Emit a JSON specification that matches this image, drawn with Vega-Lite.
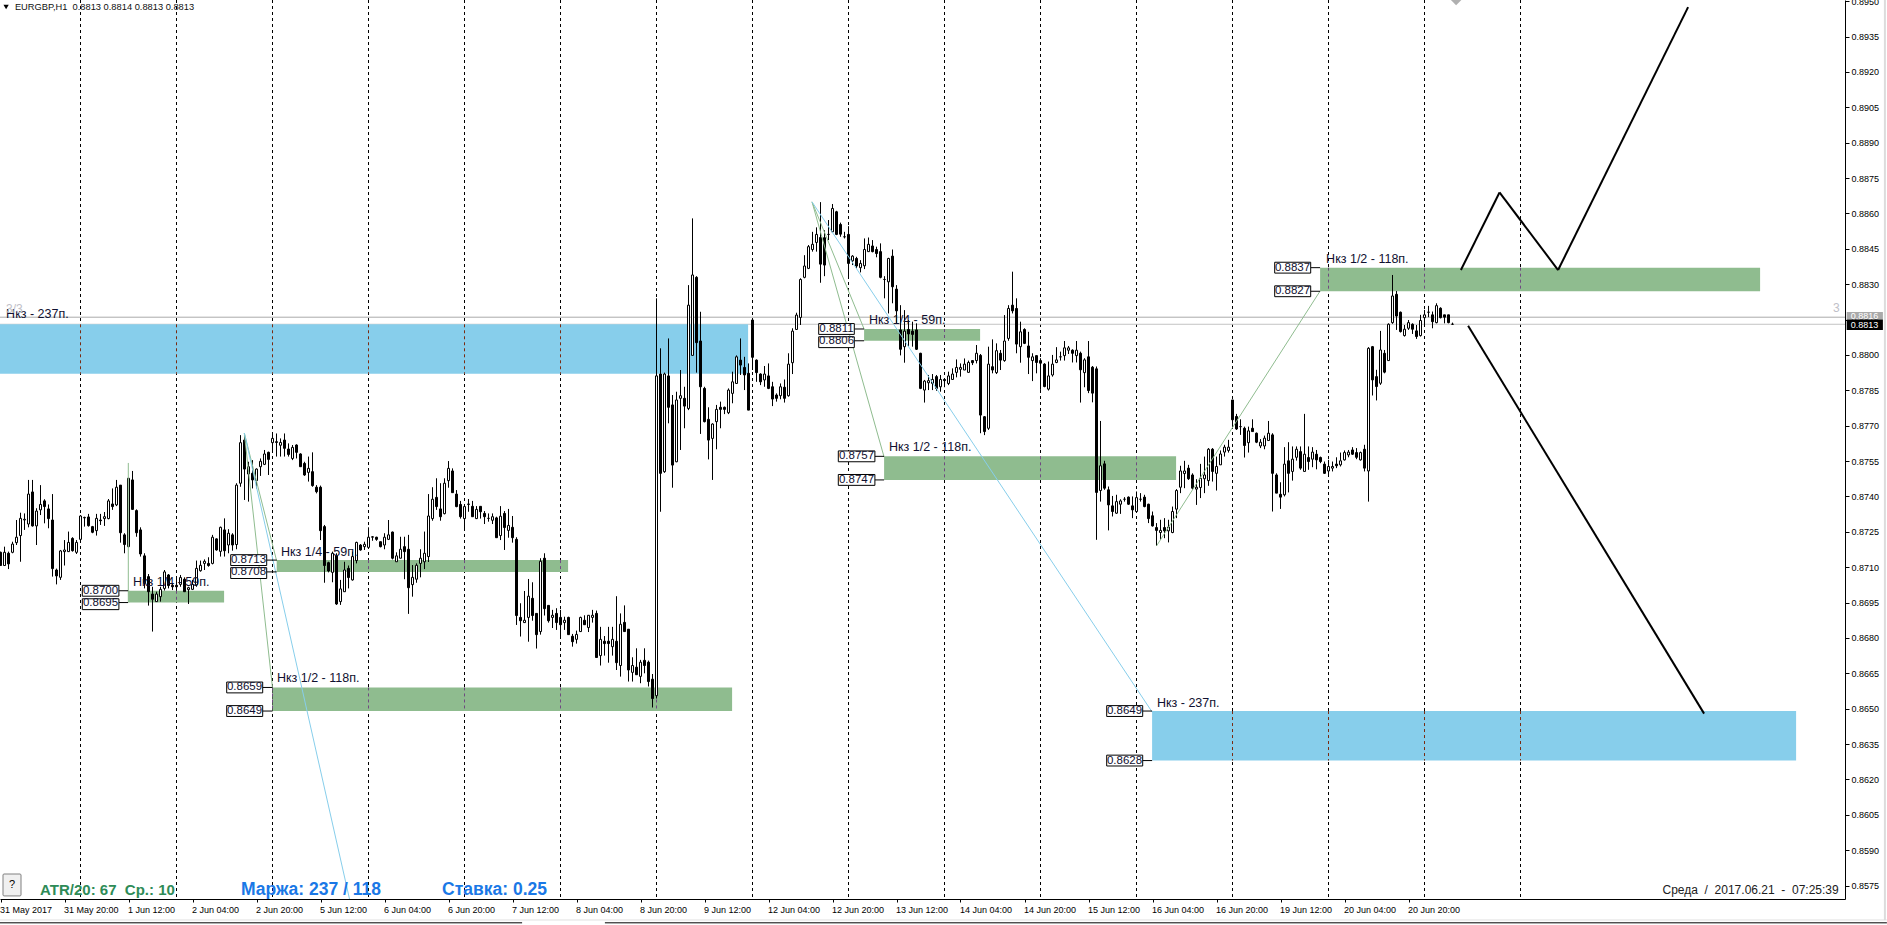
{"$schema":"https://vega.github.io/schema/vega-lite/v6.json","width":1845,"height":899,"autosize":"none","padding":{"left":0,"top":0,"right":42,"bottom":26},"background":"white","config":{"view":{"stroke":null},"font":"Liberation Sans"},
"datasets":{
"vlines":[{"i":20},{"i":44},{"i":68},{"i":92},{"i":116},{"i":140},{"i":164},{"i":188},{"i":212},{"i":236},{"i":260},{"i":284},{"i":308},{"i":332},{"i":356},{"i":380}],
"blue":[{"x1":-0.125,"x2":186.9,"p1":0.8813,"p2":0.8792},{"x1":287.9,"x2":448.9,"p1":0.8649,"p2":0.8628}],
"green":[{"x1":31.9,"x2":55.9,"p1":0.87,"p2":0.8695},{"x1":69.05,"x2":141.9,"p1":0.8713,"p2":0.8708},{"x1":68,"x2":182.9,"p1":0.8659,"p2":0.8649},{"x1":215.9,"x2":244.9,"p1":0.8811,"p2":0.8806},{"x1":220.9,"x2":293.9,"p1":0.8757,"p2":0.8747},{"x1":329.9,"x2":439.9,"p1":0.8837,"p2":0.8827}],
"dashBlue":[{"i":20,"p1":0.8813,"p2":0.8792},{"i":44,"p1":0.8813,"p2":0.8792},{"i":68,"p1":0.8813,"p2":0.8792},{"i":92,"p1":0.8813,"p2":0.8792},{"i":116,"p1":0.8813,"p2":0.8792},{"i":140,"p1":0.8813,"p2":0.8792},{"i":164,"p1":0.8813,"p2":0.8792},{"i":308,"p1":0.8649,"p2":0.8628},{"i":332,"p1":0.8649,"p2":0.8628},{"i":356,"p1":0.8649,"p2":0.8628},{"i":380,"p1":0.8649,"p2":0.8628}],
"dashGreen":[{"i":44,"p1":0.87,"p2":0.8695},{"i":92,"p1":0.8713,"p2":0.8708},{"i":116,"p1":0.8713,"p2":0.8708},{"i":140,"p1":0.8713,"p2":0.8708},{"i":68,"p1":0.8659,"p2":0.8649},{"i":92,"p1":0.8659,"p2":0.8649},{"i":116,"p1":0.8659,"p2":0.8649},{"i":140,"p1":0.8659,"p2":0.8649},{"i":164,"p1":0.8659,"p2":0.8649},{"i":236,"p1":0.8811,"p2":0.8806},{"i":236,"p1":0.8757,"p2":0.8747},{"i":260,"p1":0.8757,"p2":0.8747},{"i":284,"p1":0.8757,"p2":0.8747},{"i":332,"p1":0.8837,"p2":0.8827},{"i":356,"p1":0.8837,"p2":0.8827},{"i":380,"p1":0.8837,"p2":0.8827}],
"thinGreen":[{"x1":31.95,"p1":0.87542,"x2":31.95,"p2":0.86953},{"x1":60.95,"p1":0.87669,"x2":68,"p2":0.86588},{"x1":60.95,"p1":0.87669,"x2":69.05,"p2":0.87126},{"x1":202.875,"p1":0.88649,"x2":215.9,"p2":0.8811},{"x1":202.875,"p1":0.88649,"x2":220.9,"p2":0.87567},{"x1":289,"p1":0.8719,"x2":329.9,"p2":0.88271}],
"thinBlue":[{"x1":60.95,"p1":0.87669,"x2":87.25,"p2":0.85693},{"x1":202.875,"p1":0.88649,"x2":287.9,"p2":0.86486}],
"forecast":[{"x1":365.1,"p1":0.8836,"x2":374.75,"p2":0.88689},{"x1":374.75,"p1":0.88689,"x2":389.4,"p2":0.8836},{"x1":389.4,"p1":0.8836,"x2":421.9,"p2":0.89475},{"x1":366.9,"p1":0.88124,"x2":425.9,"p2":0.86479}],
"boxes":[{"t":"0.8700","x1":20.45,"x2":29.6,"xc":25,"xr":31.9,"p":0.87,"pt":0.87023,"pb":0.86977},{"t":"0.8695","x1":20.45,"x2":29.6,"xc":25,"xr":31.9,"p":0.8695,"pt":0.86966,"pb":0.8692},{"t":"0.8713","x1":57.55,"x2":66.55,"xc":62,"xr":69.05,"p":0.8713,"pt":0.87153,"pb":0.87107},{"t":"0.8708","x1":57.55,"x2":66.55,"xc":62,"xr":69.05,"p":0.8708,"pt":0.87098,"pb":0.87052},{"t":"0.8659","x1":56.55,"x2":65.55,"xc":61,"xr":68,"p":0.8659,"pt":0.86613,"pb":0.86567},{"t":"0.8649","x1":56.55,"x2":65.55,"xc":61,"xr":68,"p":0.8649,"pt":0.86513,"pb":0.86467},{"t":"0.8811","x1":204.55,"x2":213.45,"xc":209,"xr":215.9,"p":0.8811,"pt":0.88133,"pb":0.88087},{"t":"0.8806","x1":204.55,"x2":213.45,"xc":209,"xr":215.9,"p":0.8806,"pt":0.88077,"pb":0.88031},{"t":"0.8757","x1":209.45,"x2":218.6,"xc":214,"xr":220.9,"p":0.8757,"pt":0.87593,"pb":0.87547},{"t":"0.8747","x1":209.45,"x2":218.6,"xc":214,"xr":220.9,"p":0.8747,"pt":0.87493,"pb":0.87447},{"t":"0.8837","x1":318.55,"x2":327.55,"xc":323,"xr":329.9,"p":0.8837,"pt":0.88393,"pb":0.88347},{"t":"0.8827","x1":318.55,"x2":327.55,"xc":323,"xr":329.9,"p":0.8827,"pt":0.88293,"pb":0.88247},{"t":"0.8649","x1":276.55,"x2":285.55,"xc":281,"xr":287.9,"p":0.8649,"pt":0.86513,"pb":0.86467},{"t":"0.8628","x1":276.55,"x2":285.55,"xc":281,"xr":287.9,"p":0.8628,"pt":0.86303,"pb":0.86257}],
"notes":[{"t":"Нкз 1/4 - 59п.","x":33.1,"p":0.87037},{"t":"Нкз 1/4 - 59п.","x":70.1,"p":0.87166},{"t":"Нкз 1/2 - 118п.","x":69.1,"p":0.8663},{"t":"Нкз 1/4 - 59п.","x":217.1,"p":0.88148},{"t":"Нкз 1/2 - 118п.","x":222.1,"p":0.8761},{"t":"Нкз 1/2 - 118п.","x":331.4,"p":0.88407},{"t":"Нкз - 237п.","x":289.1,"p":0.86526},{"t":"Нкз - 237п.","x":1.4,"p":0.88172}],
"candles":[
{"i":0,"o":0.87163,"h":0.87166,"l":0.87107,"c":0.87107},{"i":1,"o":0.87107,"h":0.87187,"l":0.87107,"c":0.87163},{"i":2,"o":0.87159,"h":0.87166,"l":0.87092,"c":0.87114},{"i":3,"o":0.87163,"h":0.87208,"l":0.87159,"c":0.87198},{"i":4,"o":0.87204,"h":0.873,"l":0.87194,"c":0.87227},{"i":5,"o":0.87234,"h":0.87331,"l":0.87123,"c":0.87307},{"i":6,"o":0.873,"h":0.87328,"l":0.87258,"c":0.87303},{"i":7,"o":0.87283,"h":0.8747,"l":0.87269,"c":0.8741},{"i":8,"o":0.87419,"h":0.8747,"l":0.87272,"c":0.87275},{"i":9,"o":0.87275,"h":0.8735,"l":0.87194,"c":0.87338},
{"i":10,"o":0.87343,"h":0.87448,"l":0.87321,"c":0.87366},{"i":11,"o":0.87381,"h":0.87388,"l":0.87286,"c":0.87357},{"i":12,"o":0.87347,"h":0.87366,"l":0.87265,"c":0.87306},{"i":13,"o":0.873,"h":0.8741,"l":0.8706,"c":0.87094},{"i":14,"o":0.87088,"h":0.87094,"l":0.87027,"c":0.87063},{"i":15,"o":0.87057,"h":0.87173,"l":0.87046,"c":0.87169},{"i":16,"o":0.87166,"h":0.87215,"l":0.87107,"c":0.87173},{"i":17,"o":0.87166,"h":0.87251,"l":0.87166,"c":0.87205},{"i":18,"o":0.87222,"h":0.87227,"l":0.87166,"c":0.8717},{"i":19,"o":0.87163,"h":0.87215,"l":0.87156,"c":0.87205},
{"i":20,"o":0.87218,"h":0.87321,"l":0.87212,"c":0.87317},{"i":21,"o":0.87309,"h":0.87314,"l":0.87272,"c":0.87311},{"i":22,"o":0.87313,"h":0.87326,"l":0.87272,"c":0.87276},{"i":23,"o":0.87272,"h":0.87275,"l":0.87244,"c":0.87248},{"i":24,"o":0.87255,"h":0.87326,"l":0.87234,"c":0.87307},{"i":25,"o":0.873,"h":0.87326,"l":0.87279,"c":0.87297},{"i":26,"o":0.87306,"h":0.87334,"l":0.87275,"c":0.87314},{"i":27,"o":0.87306,"h":0.87389,"l":0.87303,"c":0.87381},{"i":28,"o":0.87368,"h":0.87434,"l":0.87343,"c":0.87357},{"i":29,"o":0.87364,"h":0.8747,"l":0.87359,"c":0.87439},
{"i":30,"o":0.87448,"h":0.87448,"l":0.87204,"c":0.87246},{"i":31,"o":0.87237,"h":0.87244,"l":0.87159,"c":0.87196},{"i":32,"o":0.87187,"h":0.87477,"l":0.87184,"c":0.87477},{"i":33,"o":0.8747,"h":0.87508,"l":0.87343,"c":0.87345},{"i":34,"o":0.8734,"h":0.87345,"l":0.87229,"c":0.87246},{"i":35,"o":0.87258,"h":0.87269,"l":0.87145,"c":0.87156},{"i":36,"o":0.87148,"h":0.87159,"l":0.8701,"c":0.87032},{"i":37,"o":0.8706,"h":0.87071,"l":0.86937,"c":0.86996},{"i":38,"o":0.86986,"h":0.87017,"l":0.86827,"c":0.86964},{"i":39,"o":0.86954,"h":0.86996,"l":0.86954,"c":0.86986},
{"i":40,"o":0.86975,"h":0.87017,"l":0.86954,"c":0.87006},{"i":41,"o":0.8701,"h":0.87088,"l":0.87001,"c":0.8708},{"i":42,"o":0.87067,"h":0.87071,"l":0.8701,"c":0.87022},{"i":43,"o":0.87023,"h":0.87032,"l":0.87003,"c":0.87017},{"i":44,"o":0.87023,"h":0.8706,"l":0.87003,"c":0.87017},{"i":45,"o":0.87027,"h":0.87067,"l":0.87017,"c":0.87056},{"i":46,"o":0.87049,"h":0.87057,"l":0.86996,"c":0.86996},{"i":47,"o":0.87005,"h":0.87017,"l":0.86944,"c":0.87013},{"i":48,"o":0.87006,"h":0.87046,"l":0.87003,"c":0.87027},{"i":49,"o":0.87025,"h":0.87128,"l":0.87017,"c":0.87095},
{"i":50,"o":0.87085,"h":0.87128,"l":0.87081,"c":0.87108},{"i":51,"o":0.87116,"h":0.87133,"l":0.87088,"c":0.87125},{"i":52,"o":0.87116,"h":0.87142,"l":0.87102,"c":0.87107},{"i":53,"o":0.87116,"h":0.87237,"l":0.87112,"c":0.87227},{"i":54,"o":0.8722,"h":0.87222,"l":0.8717,"c":0.87173},{"i":55,"o":0.87167,"h":0.87272,"l":0.87145,"c":0.87269},{"i":56,"o":0.87258,"h":0.87307,"l":0.87145,"c":0.8717},{"i":57,"o":0.87194,"h":0.87261,"l":0.87159,"c":0.87244},{"i":58,"o":0.87237,"h":0.87244,"l":0.8717,"c":0.87194},{"i":59,"o":0.87196,"h":0.87456,"l":0.87176,"c":0.87448},
{"i":60,"o":0.87456,"h":0.8766,"l":0.87441,"c":0.87628},{"i":61,"o":0.87639,"h":0.87667,"l":0.87385,"c":0.87516},{"i":62,"o":0.87495,"h":0.87547,"l":0.87378,"c":0.87526},{"i":63,"o":0.87498,"h":0.87554,"l":0.87434,"c":0.8747},{"i":64,"o":0.87467,"h":0.87519,"l":0.87434,"c":0.87516},{"i":65,"o":0.87526,"h":0.87561,"l":0.87487,"c":0.87549},{"i":66,"o":0.87536,"h":0.87597,"l":0.87533,"c":0.8758},{"i":67,"o":0.87587,"h":0.8759,"l":0.87491,"c":0.87557},{"i":68,"o":0.87628,"h":0.87667,"l":0.87587,"c":0.87646},{"i":69,"o":0.87632,"h":0.87667,"l":0.87569,"c":0.87629},
{"i":70,"o":0.87617,"h":0.87646,"l":0.87569,"c":0.87629},{"i":71,"o":0.87639,"h":0.87667,"l":0.87569,"c":0.87604},{"i":72,"o":0.87601,"h":0.87625,"l":0.87569,"c":0.87578},{"i":73,"o":0.87561,"h":0.87618,"l":0.87554,"c":0.87608},{"i":74,"o":0.87618,"h":0.87621,"l":0.87561,"c":0.87587},{"i":75,"o":0.8758,"h":0.87583,"l":0.87526,"c":0.87526},{"i":76,"o":0.8754,"h":0.87547,"l":0.87487,"c":0.87491},{"i":77,"o":0.87502,"h":0.87569,"l":0.87463,"c":0.87519},{"i":78,"o":0.87505,"h":0.87587,"l":0.87441,"c":0.87446},{"i":79,"o":0.87439,"h":0.87448,"l":0.87413,"c":0.8742},
{"i":80,"o":0.87439,"h":0.87446,"l":0.87215,"c":0.87255},{"i":81,"o":0.87272,"h":0.87279,"l":0.87034,"c":0.87107},{"i":82,"o":0.87119,"h":0.87123,"l":0.87078,"c":0.87084},{"i":83,"o":0.87078,"h":0.87166,"l":0.87036,"c":0.87159},{"i":84,"o":0.87148,"h":0.87159,"l":0.8694,"c":0.86944},{"i":85,"o":0.86954,"h":0.87046,"l":0.8694,"c":0.87008},{"i":86,"o":0.86996,"h":0.87123,"l":0.86996,"c":0.87088},{"i":87,"o":0.87095,"h":0.87107,"l":0.8701,"c":0.87056},{"i":88,"o":0.87046,"h":0.87166,"l":0.87043,"c":0.87145},{"i":89,"o":0.87128,"h":0.87208,"l":0.87116,"c":0.87205},
{"i":90,"o":0.87194,"h":0.87198,"l":0.8717,"c":0.87173},{"i":91,"o":0.87187,"h":0.87208,"l":0.87173,"c":0.87197},{"i":92,"o":0.87184,"h":0.87269,"l":0.8718,"c":0.87227},{"i":93,"o":0.87227,"h":0.87232,"l":0.87212,"c":0.87229},{"i":94,"o":0.87227,"h":0.87229,"l":0.87212,"c":0.87218},{"i":95,"o":0.87208,"h":0.87208,"l":0.87184,"c":0.87187},{"i":96,"o":0.87194,"h":0.87244,"l":0.87176,"c":0.87227},{"i":97,"o":0.87218,"h":0.873,"l":0.87215,"c":0.87237},{"i":98,"o":0.87249,"h":0.87251,"l":0.87133,"c":0.87138},{"i":99,"o":0.87123,"h":0.87163,"l":0.87123,"c":0.87148},
{"i":100,"o":0.87138,"h":0.87229,"l":0.87138,"c":0.87176},{"i":101,"o":0.87187,"h":0.87229,"l":0.87049,"c":0.87166},{"i":102,"o":0.87176,"h":0.87237,"l":0.86902,"c":0.87013},{"i":103,"o":0.87026,"h":0.87109,"l":0.86975,"c":0.87057},{"i":104,"o":0.87049,"h":0.87116,"l":0.87034,"c":0.87108},{"i":105,"o":0.87116,"h":0.87176,"l":0.87057,"c":0.87138},{"i":106,"o":0.87123,"h":0.87251,"l":0.87092,"c":0.87159},{"i":107,"o":0.87145,"h":0.8741,"l":0.87122,"c":0.87317},{"i":108,"o":0.87306,"h":0.87439,"l":0.87297,"c":0.87388},{"i":109,"o":0.87396,"h":0.87477,"l":0.87343,"c":0.87357},
{"i":110,"o":0.87347,"h":0.87456,"l":0.87297,"c":0.87314},{"i":111,"o":0.87327,"h":0.87477,"l":0.87324,"c":0.87456},{"i":112,"o":0.87467,"h":0.8755,"l":0.87437,"c":0.87519},{"i":113,"o":0.87508,"h":0.87519,"l":0.87416,"c":0.87416},{"i":114,"o":0.8741,"h":0.87427,"l":0.87354,"c":0.87357},{"i":115,"o":0.87366,"h":0.87381,"l":0.87306,"c":0.87314},{"i":116,"o":0.87306,"h":0.87359,"l":0.87261,"c":0.87357},{"i":117,"o":0.87366,"h":0.87389,"l":0.87335,"c":0.87368},{"i":118,"o":0.87358,"h":0.87381,"l":0.87314,"c":0.87314},{"i":119,"o":0.87306,"h":0.87359,"l":0.87304,"c":0.87345},
{"i":120,"o":0.87358,"h":0.87358,"l":0.87306,"c":0.87335},{"i":121,"o":0.87328,"h":0.87338,"l":0.87283,"c":0.87314},{"i":122,"o":0.87307,"h":0.87328,"l":0.87293,"c":0.87307},{"i":123,"o":0.87299,"h":0.87328,"l":0.87283,"c":0.87314},{"i":124,"o":0.87309,"h":0.87314,"l":0.87225,"c":0.87225},{"i":125,"o":0.87234,"h":0.87359,"l":0.87215,"c":0.87316},{"i":126,"o":0.87328,"h":0.87338,"l":0.87173,"c":0.87268},{"i":127,"o":0.87256,"h":0.87347,"l":0.87225,"c":0.87277},{"i":128,"o":0.87269,"h":0.87317,"l":0.87204,"c":0.87225},{"i":129,"o":0.87218,"h":0.87227,"l":0.86855,"c":0.86895},
{"i":130,"o":0.86887,"h":0.86947,"l":0.86806,"c":0.86873},{"i":131,"o":0.86865,"h":0.86999,"l":0.86865,"c":0.86875},{"i":132,"o":0.86887,"h":0.8705,"l":0.86784,"c":0.86977},{"i":133,"o":0.86968,"h":0.87036,"l":0.86873,"c":0.86895},{"i":134,"o":0.86904,"h":0.86904,"l":0.86755,"c":0.86814},{"i":135,"o":0.86827,"h":0.87138,"l":0.86814,"c":0.87125},{"i":136,"o":0.87138,"h":0.87159,"l":0.86895,"c":0.86924},{"i":137,"o":0.86938,"h":0.86938,"l":0.86865,"c":0.86873},{"i":138,"o":0.86887,"h":0.86919,"l":0.86842,"c":0.86896},{"i":139,"o":0.86904,"h":0.86926,"l":0.86834,"c":0.86865},
{"i":140,"o":0.86887,"h":0.86919,"l":0.86801,"c":0.86856},{"i":141,"o":0.86865,"h":0.8689,"l":0.86834,"c":0.86875},{"i":142,"o":0.86887,"h":0.8689,"l":0.86813,"c":0.86814},{"i":143,"o":0.86807,"h":0.86817,"l":0.86763,"c":0.86784},{"i":144,"o":0.86794,"h":0.86831,"l":0.86776,"c":0.86815},{"i":145,"o":0.86827,"h":0.8689,"l":0.86825,"c":0.86887},{"i":146,"o":0.86875,"h":0.86896,"l":0.86855,"c":0.86856},{"i":147,"o":0.86844,"h":0.86897,"l":0.86825,"c":0.86896},{"i":148,"o":0.86887,"h":0.86919,"l":0.86865,"c":0.86896},{"i":149,"o":0.86904,"h":0.86916,"l":0.86717,"c":0.86717},
{"i":150,"o":0.86725,"h":0.86847,"l":0.86683,"c":0.86794},{"i":151,"o":0.86786,"h":0.86808,"l":0.86725,"c":0.86776},{"i":152,"o":0.86786,"h":0.86847,"l":0.86695,"c":0.86776},{"i":153,"o":0.86763,"h":0.86847,"l":0.86725,"c":0.86794},{"i":154,"o":0.86786,"h":0.86977,"l":0.86664,"c":0.86695},{"i":155,"o":0.86683,"h":0.86904,"l":0.86636,"c":0.86858},{"i":156,"o":0.86866,"h":0.86938,"l":0.86827,"c":0.86827},{"i":157,"o":0.86837,"h":0.86837,"l":0.86615,"c":0.86664},{"i":158,"o":0.86654,"h":0.86718,"l":0.86615,"c":0.86683},{"i":159,"o":0.86676,"h":0.86756,"l":0.86644,"c":0.86644},
{"i":160,"o":0.86637,"h":0.86707,"l":0.86608,"c":0.86697},{"i":161,"o":0.86705,"h":0.86756,"l":0.8665,"c":0.86683},{"i":162,"o":0.86697,"h":0.86704,"l":0.86594,"c":0.86615},{"i":163,"o":0.86625,"h":0.86647,"l":0.86505,"c":0.86543},{"i":164,"o":0.86555,"h":0.8824,"l":0.86543,"c":0.87911},{"i":165,"o":0.87919,"h":0.88028,"l":0.87335,"c":0.87498},{"i":166,"o":0.87505,"h":0.87925,"l":0.875,"c":0.87919},{"i":167,"o":0.87911,"h":0.8807,"l":0.8771,"c":0.87778},{"i":168,"o":0.87788,"h":0.8783,"l":0.87437,"c":0.87533},{"i":169,"o":0.87547,"h":0.87844,"l":0.87545,"c":0.87809},
{"i":170,"o":0.87816,"h":0.87936,"l":0.87597,"c":0.87827},{"i":171,"o":0.87816,"h":0.87865,"l":0.87689,"c":0.87783},{"i":172,"o":0.87773,"h":0.88296,"l":0.87766,"c":0.88211},{"i":173,"o":0.87998,"h":0.88579,"l":0.87998,"c":0.88339},{"i":174,"o":0.88329,"h":0.88334,"l":0.87925,"c":0.88052},{"i":175,"o":0.88059,"h":0.88183,"l":0.87665,"c":0.87865},{"i":176,"o":0.87858,"h":0.87865,"l":0.87714,"c":0.87717},{"i":177,"o":0.87727,"h":0.87778,"l":0.87557,"c":0.87639},{"i":178,"o":0.87646,"h":0.8771,"l":0.8747,"c":0.87707},{"i":179,"o":0.87717,"h":0.87788,"l":0.876,"c":0.87769},
{"i":180,"o":0.87778,"h":0.87802,"l":0.87689,"c":0.87769},{"i":181,"o":0.87778,"h":0.87781,"l":0.87749,"c":0.87769},{"i":182,"o":0.87755,"h":0.87858,"l":0.87749,"c":0.87851},{"i":183,"o":0.87837,"h":0.87929,"l":0.87795,"c":0.87886},{"i":184,"o":0.87879,"h":0.87998,"l":0.87877,"c":0.87992},{"i":185,"o":0.87978,"h":0.8807,"l":0.87915,"c":0.87957},{"i":186,"o":0.87947,"h":0.87992,"l":0.87851,"c":0.87915},{"i":187,"o":0.87922,"h":0.87964,"l":0.87766,"c":0.87766},{"i":188,"o":0.88148,"h":0.88155,"l":0.87936,"c":0.8799},{"i":189,"o":0.87978,"h":0.87981,"l":0.87886,"c":0.87925},
{"i":190,"o":0.87919,"h":0.87922,"l":0.87872,"c":0.87886},{"i":191,"o":0.87894,"h":0.87953,"l":0.87865,"c":0.87919},{"i":192,"o":0.87911,"h":0.87964,"l":0.87855,"c":0.87858},{"i":193,"o":0.87865,"h":0.87886,"l":0.87783,"c":0.87813},{"i":194,"o":0.8783,"h":0.87837,"l":0.87802,"c":0.87816},{"i":195,"o":0.87827,"h":0.87879,"l":0.87812,"c":0.87865},{"i":196,"o":0.87863,"h":0.87896,"l":0.87798,"c":0.87816},{"i":197,"o":0.87827,"h":0.88007,"l":0.87823,"c":0.87961},{"i":198,"o":0.87967,"h":0.88113,"l":0.87919,"c":0.88101},{"i":199,"o":0.88108,"h":0.88179,"l":0.88106,"c":0.88169},
{"i":200,"o":0.88159,"h":0.88325,"l":0.88127,"c":0.8832},{"i":201,"o":0.88329,"h":0.88423,"l":0.88325,"c":0.88377},{"i":202,"o":0.88367,"h":0.88466,"l":0.88364,"c":0.88459},{"i":203,"o":0.88447,"h":0.88522,"l":0.88438,"c":0.88469},{"i":204,"o":0.88477,"h":0.88541,"l":0.88438,"c":0.88511},{"i":205,"o":0.88498,"h":0.88648,"l":0.88306,"c":0.88385},{"i":206,"o":0.88497,"h":0.88529,"l":0.88334,"c":0.88381},{"i":207,"o":0.88511,"h":0.88572,"l":0.88487,"c":0.88511},{"i":208,"o":0.88522,"h":0.8864,"l":0.8852,"c":0.88621},{"i":209,"o":0.88607,"h":0.88611,"l":0.88508,"c":0.88511},
{"i":210,"o":0.88553,"h":0.88561,"l":0.88501,"c":0.88512},{"i":211,"o":0.88501,"h":0.88522,"l":0.88494,"c":0.88501},{"i":212,"o":0.88511,"h":0.88546,"l":0.88329,"c":0.88388},{"i":213,"o":0.88399,"h":0.88423,"l":0.88381,"c":0.88419},{"i":214,"o":0.88409,"h":0.88416,"l":0.88367,"c":0.88377},{"i":215,"o":0.8837,"h":0.88402,"l":0.8835,"c":0.88388},{"i":216,"o":0.88378,"h":0.88494,"l":0.88364,"c":0.88447},{"i":217,"o":0.88438,"h":0.88498,"l":0.88438,"c":0.88469},{"i":218,"o":0.88462,"h":0.88487,"l":0.88435,"c":0.88438},{"i":219,"o":0.88447,"h":0.88459,"l":0.88414,"c":0.8843},
{"i":220,"o":0.88438,"h":0.88473,"l":0.88325,"c":0.88329},{"i":221,"o":0.8832,"h":0.88334,"l":0.8824,"c":0.8832},{"i":222,"o":0.8831,"h":0.88412,"l":0.88176,"c":0.88409},{"i":223,"o":0.88419,"h":0.88447,"l":0.88219,"c":0.88289},{"i":224,"o":0.88279,"h":0.88296,"l":0.88134,"c":0.88187},{"i":225,"o":0.88106,"h":0.88211,"l":0.87998,"c":0.88024},{"i":226,"o":0.88035,"h":0.8819,"l":0.87967,"c":0.88101},{"i":227,"o":0.88108,"h":0.88148,"l":0.88035,"c":0.88089},{"i":228,"o":0.88101,"h":0.88141,"l":0.88035,"c":0.88087},{"i":229,"o":0.88106,"h":0.88134,"l":0.88021,"c":0.88024},
{"i":230,"o":0.88007,"h":0.88009,"l":0.87855,"c":0.87858},{"i":231,"o":0.87851,"h":0.87894,"l":0.87798,"c":0.87889},{"i":232,"o":0.87882,"h":0.87915,"l":0.87851,"c":0.87891},{"i":233,"o":0.87879,"h":0.87919,"l":0.87851,"c":0.87896},{"i":234,"o":0.87908,"h":0.87915,"l":0.87848,"c":0.87858},{"i":235,"o":0.87865,"h":0.87915,"l":0.87844,"c":0.87896},{"i":236,"o":0.87896,"h":0.87901,"l":0.87863,"c":0.87891},{"i":237,"o":0.87879,"h":0.87929,"l":0.87872,"c":0.87911},{"i":238,"o":0.87896,"h":0.87943,"l":0.87894,"c":0.87919},{"i":239,"o":0.87926,"h":0.87981,"l":0.87905,"c":0.87947},
{"i":240,"o":0.87939,"h":0.87964,"l":0.87908,"c":0.87947},{"i":241,"o":0.87936,"h":0.87985,"l":0.87936,"c":0.87961},{"i":242,"o":0.87926,"h":0.87976,"l":0.87925,"c":0.87968},{"i":243,"o":0.87976,"h":0.87978,"l":0.87957,"c":0.87967},{"i":244,"o":0.87976,"h":0.88042,"l":0.87964,"c":0.88007},{"i":245,"o":0.87998,"h":0.88004,"l":0.87668,"c":0.87745},{"i":246,"o":0.87738,"h":0.87741,"l":0.8766,"c":0.87675},{"i":247,"o":0.87689,"h":0.88035,"l":0.87682,"c":0.87961},{"i":248,"o":0.8795,"h":0.88066,"l":0.87922,"c":0.87936},{"i":249,"o":0.87925,"h":0.88049,"l":0.87919,"c":0.88018},
{"i":250,"o":0.88007,"h":0.88021,"l":0.87936,"c":0.87978},{"i":251,"o":0.87976,"h":0.88169,"l":0.87971,"c":0.88059},{"i":252,"o":0.8807,"h":0.88211,"l":0.8806,"c":0.88197},{"i":253,"o":0.88211,"h":0.88353,"l":0.88176,"c":0.88187},{"i":254,"o":0.88197,"h":0.8824,"l":0.88007,"c":0.88046},{"i":255,"o":0.88035,"h":0.88141,"l":0.87967,"c":0.88098},{"i":256,"o":0.88108,"h":0.88113,"l":0.88046,"c":0.88049},{"i":257,"o":0.88038,"h":0.88098,"l":0.87919,"c":0.8799},{"i":258,"o":0.87976,"h":0.88007,"l":0.87889,"c":0.87992},{"i":259,"o":0.87997,"h":0.87998,"l":0.87922,"c":0.87968},
{"i":260,"o":0.87976,"h":0.87986,"l":0.87852,"c":0.87965},{"i":261,"o":0.87961,"h":0.87965,"l":0.87863,"c":0.87866},{"i":262,"o":0.87855,"h":0.87972,"l":0.87849,"c":0.87911},{"i":263,"o":0.87915,"h":0.88,"l":0.87908,"c":0.87961},{"i":264,"o":0.87968,"h":0.88033,"l":0.87965,"c":0.87979},{"i":265,"o":0.87992,"h":0.88014,"l":0.87976,"c":0.87992},{"i":266,"o":0.87997,"h":0.88059,"l":0.87976,"c":0.8803},{"i":267,"o":0.8802,"h":0.88038,"l":0.88004,"c":0.8803},{"i":268,"o":0.8802,"h":0.88024,"l":0.87968,"c":0.88007},{"i":269,"o":0.87997,"h":0.88059,"l":0.87968,"c":0.8802},
{"i":270,"o":0.88007,"h":0.88014,"l":0.87798,"c":0.87937},{"i":271,"o":0.87925,"h":0.87986,"l":0.87863,"c":0.87979},{"i":272,"o":0.87992,"h":0.88059,"l":0.87838,"c":0.87849},{"i":273,"o":0.87948,"h":0.87953,"l":0.87799,"c":0.87838},{"i":274,"o":0.87941,"h":0.87951,"l":0.87216,"c":0.87417},{"i":275,"o":0.87425,"h":0.8772,"l":0.87378,"c":0.8753},{"i":276,"o":0.87538,"h":0.87551,"l":0.87428,"c":0.87435},{"i":277,"o":0.87428,"h":0.87442,"l":0.87256,"c":0.87364},{"i":278,"o":0.8736,"h":0.87402,"l":0.87315,"c":0.87336},{"i":279,"o":0.87329,"h":0.87407,"l":0.87326,"c":0.87378},
{"i":280,"o":0.87367,"h":0.87388,"l":0.87326,"c":0.87381},{"i":281,"o":0.87388,"h":0.87397,"l":0.87378,"c":0.87388},{"i":282,"o":0.87397,"h":0.874,"l":0.87364,"c":0.87367},{"i":283,"o":0.8736,"h":0.874,"l":0.87308,"c":0.87343},{"i":284,"o":0.87336,"h":0.87421,"l":0.87336,"c":0.87395},{"i":285,"o":0.87388,"h":0.87414,"l":0.87378,"c":0.87388},{"i":286,"o":0.87397,"h":0.87407,"l":0.87354,"c":0.87357},{"i":287,"o":0.87367,"h":0.87369,"l":0.87287,"c":0.87306},{"i":288,"o":0.87318,"h":0.87336,"l":0.87272,"c":0.87275},{"i":289,"o":0.87268,"h":0.87287,"l":0.8719,"c":0.87256},
{"i":290,"o":0.87247,"h":0.87301,"l":0.87216,"c":0.87256},{"i":291,"o":0.87268,"h":0.87308,"l":0.87223,"c":0.87254},{"i":292,"o":0.87254,"h":0.87301,"l":0.87205,"c":0.8727},{"i":293,"o":0.87247,"h":0.87357,"l":0.87244,"c":0.87336},{"i":294,"o":0.87346,"h":0.87431,"l":0.87308,"c":0.87425},{"i":295,"o":0.87439,"h":0.8753,"l":0.87414,"c":0.87508},{"i":296,"o":0.87497,"h":0.87551,"l":0.87435,"c":0.87508},{"i":297,"o":0.8752,"h":0.87534,"l":0.8747,"c":0.87475},{"i":298,"o":0.87491,"h":0.87498,"l":0.87428,"c":0.87435},{"i":299,"o":0.87431,"h":0.87473,"l":0.87364,"c":0.87439},
{"i":300,"o":0.87438,"h":0.87538,"l":0.87393,"c":0.87477},{"i":301,"o":0.87475,"h":0.87569,"l":0.87414,"c":0.87491},{"i":302,"o":0.87467,"h":0.87605,"l":0.87445,"c":0.876},{"i":303,"o":0.876,"h":0.87605,"l":0.87463,"c":0.87506},{"i":304,"o":0.87498,"h":0.87569,"l":0.87425,"c":0.87527},{"i":305,"o":0.87534,"h":0.87595,"l":0.87534,"c":0.8758},{"i":306,"o":0.87588,"h":0.87619,"l":0.87569,"c":0.87609},{"i":307,"o":0.87595,"h":0.8764,"l":0.87586,"c":0.87609},{"i":308,"o":0.87809,"h":0.87809,"l":0.87689,"c":0.87725},{"i":309,"o":0.87739,"h":0.8775,"l":0.87682,"c":0.87686},
{"i":310,"o":0.87696,"h":0.87727,"l":0.87661,"c":0.87696},{"i":311,"o":0.87689,"h":0.87696,"l":0.87565,"c":0.87616},{"i":312,"o":0.87628,"h":0.87696,"l":0.87586,"c":0.87678},{"i":313,"o":0.87689,"h":0.87727,"l":0.87675,"c":0.87675},{"i":314,"o":0.87668,"h":0.87671,"l":0.87626,"c":0.8763},{"i":315,"o":0.87614,"h":0.87643,"l":0.87605,"c":0.8763},{"i":316,"o":0.87614,"h":0.87658,"l":0.876,"c":0.87647},{"i":317,"o":0.87637,"h":0.8772,"l":0.87637,"c":0.87668},{"i":318,"o":0.87661,"h":0.87668,"l":0.87336,"c":0.87498},{"i":319,"o":0.87491,"h":0.87498,"l":0.87414,"c":0.87414},
{"i":320,"o":0.87409,"h":0.8746,"l":0.87347,"c":0.87397},{"i":321,"o":0.87407,"h":0.87609,"l":0.874,"c":0.87537},{"i":322,"o":0.87551,"h":0.8763,"l":0.87417,"c":0.87498},{"i":323,"o":0.87506,"h":0.87612,"l":0.87467,"c":0.87558},{"i":324,"o":0.87566,"h":0.87612,"l":0.87552,"c":0.876},{"i":325,"o":0.8759,"h":0.87612,"l":0.87513,"c":0.8752},{"i":326,"o":0.87506,"h":0.8775,"l":0.87506,"c":0.87579},{"i":327,"o":0.87565,"h":0.87612,"l":0.87513,"c":0.87548},{"i":328,"o":0.87558,"h":0.87609,"l":0.87524,"c":0.87588},{"i":329,"o":0.87579,"h":0.87597,"l":0.87515,"c":0.87555},
{"i":330,"o":0.87565,"h":0.87569,"l":0.87541,"c":0.87548},{"i":331,"o":0.87537,"h":0.87548,"l":0.87496,"c":0.87498},{"i":332,"o":0.87508,"h":0.87555,"l":0.87487,"c":0.87527},{"i":333,"o":0.8752,"h":0.87548,"l":0.87506,"c":0.87527},{"i":334,"o":0.87537,"h":0.87566,"l":0.8752,"c":0.8753},{"i":335,"o":0.87534,"h":0.87586,"l":0.87527,"c":0.87551},{"i":336,"o":0.87555,"h":0.87595,"l":0.87552,"c":0.87586},{"i":337,"o":0.87576,"h":0.87597,"l":0.87566,"c":0.87588},{"i":338,"o":0.87597,"h":0.87609,"l":0.87576,"c":0.87579},{"i":339,"o":0.87586,"h":0.87605,"l":0.87558,"c":0.87566},
{"i":340,"o":0.87555,"h":0.8759,"l":0.87552,"c":0.87586},{"i":341,"o":0.876,"h":0.87619,"l":0.87506,"c":0.8752},{"i":342,"o":0.87508,"h":0.88033,"l":0.87378,"c":0.88028},{"i":343,"o":0.88035,"h":0.88038,"l":0.87828,"c":0.87894},{"i":344,"o":0.87908,"h":0.87937,"l":0.87807,"c":0.87866},{"i":345,"o":0.8788,"h":0.88102,"l":0.87873,"c":0.88021},{"i":346,"o":0.88007,"h":0.88021,"l":0.87922,"c":0.87927},{"i":347,"o":0.87976,"h":0.88134,"l":0.87975,"c":0.8813},{"i":348,"o":0.88137,"h":0.88339,"l":0.88132,"c":0.8825},{"i":349,"o":0.88257,"h":0.88271,"l":0.88106,"c":0.88165},
{"i":350,"o":0.88181,"h":0.88184,"l":0.88095,"c":0.88099},{"i":351,"o":0.88082,"h":0.88127,"l":0.88078,"c":0.88109},{"i":352,"o":0.88113,"h":0.88148,"l":0.88106,"c":0.88137},{"i":353,"o":0.8813,"h":0.88134,"l":0.88089,"c":0.88109},{"i":354,"o":0.88102,"h":0.88127,"l":0.88068,"c":0.88078},{"i":355,"o":0.88082,"h":0.8817,"l":0.88078,"c":0.88146},{"i":356,"o":0.88158,"h":0.88191,"l":0.88123,"c":0.8817},{"i":357,"o":0.88181,"h":0.88208,"l":0.8816,"c":0.88181},{"i":358,"o":0.8817,"h":0.88184,"l":0.88113,"c":0.88141},{"i":359,"o":0.88137,"h":0.88219,"l":0.88134,"c":0.88209},
{"i":360,"o":0.88198,"h":0.88202,"l":0.88155,"c":0.88158},{"i":361,"o":0.8817,"h":0.8817,"l":0.88134,"c":0.8816},{"i":362,"o":0.8817,"h":0.8817,"l":0.88134,"c":0.88137},{"i":363,"o":0.8813,"h":0.88137,"l":0.88127,"c":0.8813}
]},
"layer":[
{"data":{"name":"vlines"},"mark":{"type":"rule","color":"#000","strokeWidth":1,"strokeDash":[3,3]},"encoding":{"x":{"field":"i","type":"quantitative","scale":{"domain":[-0.125,461.125],"nice":false,"zero":false,"padding":0},"axis":{"title":null,"tickCount":40,"values":[0,16,32,48,64,80,96,112,128,144,160,176,192,208,224,240,256,272,288,304,320,336,352],"labelExpr":"['31 May 2017','31 May 20:00','1 Jun 12:00','2 Jun 04:00','2 Jun 20:00','5 Jun 12:00','6 Jun 04:00','6 Jun 20:00','7 Jun 12:00','8 Jun 04:00','8 Jun 20:00','9 Jun 12:00','12 Jun 04:00','12 Jun 20:00','13 Jun 12:00','14 Jun 04:00','14 Jun 20:00','15 Jun 12:00','16 Jun 04:00','16 Jun 20:00','19 Jun 12:00','20 Jun 04:00','20 Jun 20:00'][round(datum.value/16)]","grid":false,"labelAlign":"left","labelOverlap":false,"labelFlush":false,"labelFont":"Liberation Sans","labelFontSize":9,"labelColor":"#000","labelPadding":3,"labelOffset":-1,"tickSize":3,"tickColor":"#000","domainColor":"#000"}}}},
{"data":{"values":[{"p":0.8816}]},"mark":{"type":"rule","color":"#aaaaaa","strokeWidth":1},"encoding":{"y":{"field":"p","type":"quantitative","scale":{"domain":[0.85693,0.89505],"nice":false,"zero":false},"axis":{"title":null,"orient":"right","tickCount":40,"values":[0.8575,0.859,0.8605,0.862,0.8635,0.865,0.8665,0.868,0.8695,0.871,0.8725,0.874,0.8755,0.877,0.8785,0.88,0.8815,0.883,0.8845,0.886,0.8875,0.889,0.8905,0.892,0.8935,0.895],"format":".4f","grid":false,"labelFont":"Liberation Sans","labelFontSize":9,"labelColor":"#000","labelPadding":2,"tickSize":4,"tickColor":"#000","domainColor":"#000","labelOverlap":false,"labelFlush":false}}}},
{"data":{"values":[{"p":0.8813}]},"mark":{"type":"rule","color":"#c4c4c4","strokeWidth":1},"encoding":{"y":{"field":"p","type":"quantitative"}}},
{"data":{"name":"blue"},"mark":{"type":"rect","color":"#87ceeb"},"encoding":{"x":{"field":"x1","type":"quantitative"},"x2":{"field":"x2"},"y":{"field":"p1","type":"quantitative"},"y2":{"field":"p2"}}},
{"data":{"name":"green"},"mark":{"type":"rect","color":"#8fbc8f"},"encoding":{"x":{"field":"x1","type":"quantitative"},"x2":{"field":"x2"},"y":{"field":"p1","type":"quantitative"},"y2":{"field":"p2"}}},
{"data":{"name":"dashBlue"},"mark":{"type":"rule","color":"#7a2a10","strokeWidth":1,"strokeDash":[3,3]},"encoding":{"x":{"field":"i","type":"quantitative"},"y":{"field":"p1","type":"quantitative"},"y2":{"field":"p2"}}},
{"data":{"name":"dashGreen"},"mark":{"type":"rule","color":"#6f4a80","strokeWidth":1,"strokeDash":[3,3]},"encoding":{"x":{"field":"i","type":"quantitative"},"y":{"field":"p1","type":"quantitative"},"y2":{"field":"p2"}}},
{"data":{"name":"candles"},"mark":{"type":"rule","color":"#000","strokeWidth":1},"encoding":{"x":{"field":"i","type":"quantitative"},"y":{"field":"h","type":"quantitative"},"y2":{"field":"l"}}},
{"data":{"name":"candles"},"transform":[{"filter":"datum.c>=datum.o"}],"mark":{"type":"bar","orient":"vertical","width":2,"fill":"#fff","stroke":"#000","strokeWidth":1},"encoding":{"x":{"field":"i","type":"quantitative"},"y":{"field":"o","type":"quantitative"},"y2":{"field":"c"}}},
{"data":{"name":"candles"},"transform":[{"filter":"datum.c<datum.o"}],"mark":{"type":"bar","orient":"vertical","width":2,"fill":"#000","stroke":"#000","strokeWidth":1},"encoding":{"x":{"field":"i","type":"quantitative"},"y":{"field":"o","type":"quantitative"},"y2":{"field":"c"}}},
{"data":{"name":"thinGreen"},"mark":{"type":"rule","color":"#8fbc8f","strokeWidth":1},"encoding":{"x":{"field":"x1","type":"quantitative"},"x2":{"field":"x2"},"y":{"field":"p1","type":"quantitative"},"y2":{"field":"p2"}}},
{"data":{"name":"thinBlue"},"mark":{"type":"rule","color":"#87ceeb","strokeWidth":1},"encoding":{"x":{"field":"x1","type":"quantitative"},"x2":{"field":"x2"},"y":{"field":"p1","type":"quantitative"},"y2":{"field":"p2"}}},
{"data":{"name":"forecast"},"mark":{"type":"rule","color":"#000","strokeWidth":2},"encoding":{"x":{"field":"x1","type":"quantitative"},"x2":{"field":"x2"},"y":{"field":"p1","type":"quantitative"},"y2":{"field":"p2"}}},
{"data":{"name":"boxes"},"mark":{"type":"rule","color":"#000","strokeWidth":1},"encoding":{"x":{"field":"x2","type":"quantitative"},"x2":{"field":"xr"},"y":{"field":"p","type":"quantitative"}}},
{"data":{"name":"boxes"},"mark":{"type":"rect","fill":"#fff","stroke":"#000","strokeWidth":1},"encoding":{"x":{"field":"x1","type":"quantitative"},"x2":{"field":"x2"},"y":{"field":"pt","type":"quantitative"},"y2":{"field":"pb"}}},
{"data":{"name":"boxes"},"mark":{"type":"text","font":"Liberation Sans","fontSize":11.5,"color":"#101030","align":"center","baseline":"middle"},"encoding":{"x":{"field":"xc","type":"quantitative"},"y":{"field":"p","type":"quantitative"},"text":{"field":"t"}}},
{"data":{"name":"notes"},"mark":{"type":"text","font":"Liberation Sans","fontSize":12.5,"color":"#101030","align":"left","baseline":"middle"},"encoding":{"x":{"field":"x","type":"quantitative"},"y":{"field":"p","type":"quantitative"},"text":{"field":"t"}}},
{"data":{"values":[{"t":"3/3","x":1.4,"p":0.88195},{"t":"3","x":458.1,"p":0.88199}]},"mark":{"type":"text","font":"Liberation Sans","fontSize":12,"color":"#c0c0c8","align":"left","baseline":"middle"},"encoding":{"x":{"field":"x","type":"quantitative"},"y":{"field":"p","type":"quantitative"},"text":{"field":"t"}}},
{"data":{"values":[{"t":"EURGBP,H1\u00a0\u00a00.8813 0.8814 0.8813 0.8813","x":3.6,"p":0.89475}]},"mark":{"type":"text","font":"Liberation Sans","fontSize":9.3,"color":"#101010","align":"left","baseline":"middle"},"encoding":{"x":{"field":"x","type":"quantitative"},"y":{"field":"p","type":"quantitative"},"text":{"field":"t"}}},
{"data":{"values":[{"x":1.4,"p":0.89475}]},"mark":{"type":"point","shape":"triangle-down","filled":true,"color":"#000","size":28,"opacity":1},"encoding":{"x":{"field":"x","type":"quantitative"},"y":{"field":"p","type":"quantitative"}}},
{"data":{"values":[{"x":363.9,"p":0.89505}]},"mark":{"type":"point","shape":"diamond","filled":true,"color":"#b0b0b0","size":110,"opacity":1},"encoding":{"x":{"field":"x","type":"quantitative"},"y":{"field":"p","type":"quantitative"}}},
{"data":{"values":[{"t":"ATR/20: 67\u00a0\u00a0Ср.: 10","x":9.9,"p":0.85731}]},"mark":{"type":"text","font":"Liberation Sans","fontWeight":"bold","fontSize":15,"color":"#2e8b57","align":"left","baseline":"middle"},"encoding":{"x":{"field":"x","type":"quantitative"},"y":{"field":"p","type":"quantitative"},"text":{"field":"t"}}},
{"data":{"values":[{"t":"Маржа: 237 / 118","x":60.1,"p":0.85731},{"t":"Ставка: 0.25","x":110.4,"p":0.85731}]},"mark":{"type":"text","font":"Liberation Sans","fontWeight":"bold","fontSize":17.5,"color":"#1a78e6","align":"left","baseline":"middle"},"encoding":{"x":{"field":"x","type":"quantitative"},"y":{"field":"p","type":"quantitative"},"text":{"field":"t"}}},
{"data":{"values":[{"t":"Среда\u00a0\u00a0/\u00a0\u00a02017.06.21\u00a0\u00a0-\u00a0\u00a007:25:39","x":415.5,"p":0.85731}]},"mark":{"type":"text","font":"Liberation Sans","fontSize":12,"color":"#202020","align":"left","baseline":"middle"},"encoding":{"x":{"field":"x","type":"quantitative"},"y":{"field":"p","type":"quantitative"},"text":{"field":"t"}}},
{"data":{"values":[{"x1":0.625,"x2":5.125,"p1":0.85799,"p2":0.85706}]},"mark":{"type":"rect","fill":"#f0f0f0","stroke":"#808080","strokeWidth":1,"cornerRadius":1},"encoding":{"x":{"field":"x1","type":"quantitative"},"x2":{"field":"x2"},"y":{"field":"p1","type":"quantitative"},"y2":{"field":"p2"}}},
{"data":{"values":[{"t":"?","x":2.9,"p":0.85752}]},"mark":{"type":"text","font":"Liberation Sans","fontSize":11,"color":"#000","align":"center","baseline":"middle"},"encoding":{"x":{"field":"x","type":"quantitative"},"y":{"field":"p","type":"quantitative"},"text":{"field":"t"}}},
{"data":{"values":[{"x1":461.55,"x2":470.6,"p1":0.88182,"p2":0.8815}]},"mark":{"type":"rect","fill":"#aaaaaa"},"encoding":{"x":{"field":"x1","type":"quantitative"},"x2":{"field":"x2"},"y":{"field":"p1","type":"quantitative"},"y2":{"field":"p2"}}},
{"data":{"values":[{"t":"0.8816","x":466,"p":0.88163}]},"mark":{"type":"text","font":"Liberation Sans","fontSize":9,"color":"#fff","align":"center","baseline":"middle"},"encoding":{"x":{"field":"x","type":"quantitative"},"y":{"field":"p","type":"quantitative"},"text":{"field":"t"}}},
{"data":{"values":[{"x1":461.55,"x2":470.6,"p1":0.8815,"p2":0.88106}]},"mark":{"type":"rect","fill":"#000"},"encoding":{"x":{"field":"x1","type":"quantitative"},"x2":{"field":"x2"},"y":{"field":"p1","type":"quantitative"},"y2":{"field":"p2"}}},
{"data":{"values":[{"t":"0.8813","x":466,"p":0.88128}]},"mark":{"type":"text","font":"Liberation Sans","fontSize":9,"color":"#fff","align":"center","baseline":"middle"},"encoding":{"x":{"field":"x","type":"quantitative"},"y":{"field":"p","type":"quantitative"},"text":{"field":"t"}}},
{"data":{"values":[{"x1":-0.125,"x2":471.6,"p":0.85604}]},"mark":{"type":"rule","color":"#e0e0e0","strokeWidth":1},"encoding":{"x":{"field":"x1","type":"quantitative"},"x2":{"field":"x2"},"y":{"field":"p","type":"quantitative"}}},
{"data":{"values":[{"x1":-0.125,"x2":130.4,"p":0.85592},{"x1":151.1,"x2":471.6,"p":0.85592}]},"mark":{"type":"rule","color":"#000","strokeWidth":1},"encoding":{"x":{"field":"x1","type":"quantitative"},"x2":{"field":"x2"},"y":{"field":"p","type":"quantitative"}}},
{"data":{"values":[{"x":471.1,"p1":0.89505,"p2":0.85604}]},"mark":{"type":"rule","color":"#dcdcdc","strokeWidth":2},"encoding":{"x":{"field":"x","type":"quantitative"},"y":{"field":"p1","type":"quantitative"},"y2":{"field":"p2"}}}
]}
